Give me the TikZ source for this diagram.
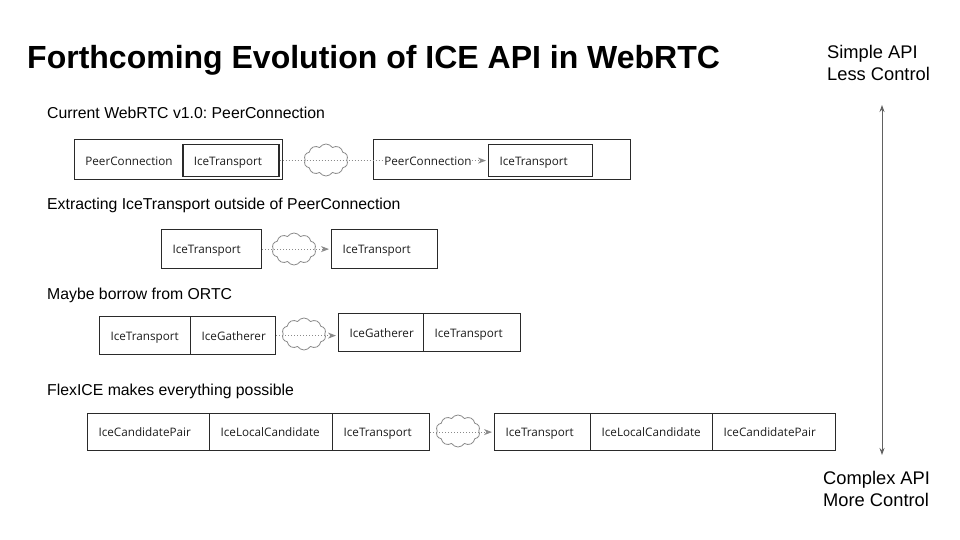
\documentclass[tikz,border=0pt]{standalone}
\usepackage{fontspec}
\setmainfont{Liberation Sans}
\newfontfamily\boxfont{Open Sans}
\usetikzlibrary{shapes.symbols,arrows.meta}
\definecolor{boxc}{HTML}{2A2A2A}
\definecolor{txtc}{HTML}{1E1E1E}
\definecolor{linec}{HTML}{8A8A8A}
\frenchspacing
\begin{document}
\begin{tikzpicture}[x=1pt,y=-1pt,
  cell/.style={draw=boxc, line width=1.2pt, inner xsep=11pt, inner ysep=0pt, align=left,
    text height=10pt, text depth=0.5pt,
    anchor=north west, font=\boxfont\fontsize{11.7}{13}\selectfont, text=txtc},
  frame/.style={draw=boxc, line width=1.2pt, anchor=north west, inner sep=0pt},
  plain/.style={font=\boxfont\fontsize{11.7}{13}\selectfont, text=txtc, inner sep=0pt,
    text height=10pt, text depth=0.5pt},
  cloudy/.style={cloud, cloud puffs=10, cloud puff arc=115, aspect=1.35, draw=linec,
    line width=0.8pt, minimum width=44pt, minimum height=32pt, inner sep=0pt},
  dotline/.style={draw=linec, line width=0.9pt, dash pattern=on 0.8pt off 2.2pt},
  tip/.style={-{Stealth[length=8pt,width=6pt,inset=2.5pt]}, shorten >=2pt},
  heading/.style={anchor=base west, font=\fontsize{15.8}{19}\selectfont, inner sep=0pt},
  side/.style={anchor=base west, font=\fontsize{18.3}{22}\selectfont, inner sep=0pt, align=left}
]
\useasboundingbox (0,0) rectangle (960,540);
\fill[white] (0,0) rectangle (960,540);

% title
\node[anchor=base west, inner sep=0pt, font=\bfseries\fontsize{32}{38}\selectfont] (title) at (27,69)
  {Forthcoming Evolution of ICE API in WebRTC};

% side labels and arrow
\node[side] (simple) at (827,59) {Simple API};
\node[side] (less) at (827,81) {Less Control};
\node[side] (complex) at (823,484) {Complex API};
\node[side] (more) at (823,506) {More Control};
\coordinate (vtop) at (882,105);
\coordinate (vbot) at (882,455);
\draw[draw=linec!70!black, line width=0.9pt, {Stealth[length=7pt,width=5pt]}-{Stealth[length=7pt,width=5pt]}] (vtop) -- (vbot);

% row headings
\node[heading] (h1) at (47,119) {Current WebRTC v1.0: PeerConnection};
\node[heading] (h2) at (47,209) {Extracting IceTransport outside of PeerConnection};
\node[heading] (h3) at (47,299) {Maybe borrow from ORTC};
\node[heading] (h4) at (47,395) {FlexICE makes everything possible};

% row 1
\node[frame, minimum width=208pt, minimum height=40pt] (outer1) at (74,139) {};
\node[plain] (pc1) at (129,160.3) {PeerConnection};
\node[cell, text width=74pt, minimum height=32pt, line width=1.5pt] (inner1) at (182,144) {IceTransport};
\node[cloudy] (cloud1) at (326,160) {};
\node[frame, minimum width=257pt, minimum height=40pt] (outer2) at (373,139) {};
\node[plain] (pc2) at (428,160.3) {PeerConnection};
\node[cell, text width=82pt, minimum height=32pt] (inner2) at (488,144) {IceTransport};
\draw[dotline] (inner1.east) -- (pc2.west |- inner1.east);
\draw[dotline, tip] (pc2.east |- inner2.west) -- (inner2.west);

% row 2
\node[cell, text width=78pt, minimum height=39pt] (r2a) at (161,229) {IceTransport};
\node[cloudy] (cloud2) at (294,249) {};
\node[cell, text width=84pt, minimum height=39pt] (r2b) at (331,229) {IceTransport};
\draw[dotline, tip] (r2a.east) -- (r2b.west);

% row 3
\node[cell, text width=69pt, minimum height=38pt] (r3a) at (99,316) {IceTransport};
\node[cell, text width=63pt, minimum height=38pt] (r3b) at (190,316) {IceGatherer};
\node[cloudy] (cloud3) at (304,334) {};
\node[cell, text width=63pt, minimum height=38pt] (r3c) at (338,313) {IceGatherer};
\node[cell, text width=75pt, minimum height=38pt] (r3d) at (423,313) {IceTransport};
\draw[dotline, tip] (r3b.east) -- (r3c.west |- r3b.east);

% row 4
\node[cell, text width=100pt, minimum height=37pt] (r4a) at (87,413) {IceCandidatePair};
\node[cell, text width=101pt, minimum height=37pt] (r4b) at (209,413) {IceLocalCandidate};
\node[cell, text width=75pt, minimum height=37pt] (r4c) at (332,413) {IceTransport};
\node[cloudy] (cloud4) at (458,431) {};
\node[cell, text width=74pt, minimum height=37pt] (r4d) at (494,413) {IceTransport};
\node[cell, text width=100pt, minimum height=37pt] (r4e) at (590,413) {IceLocalCandidate};
\node[cell, text width=101pt, minimum height=37pt] (r4f) at (712,413) {IceCandidatePair};
\draw[dotline, tip] (r4c.east) -- (r4d.west);
\end{tikzpicture}
\end{document}
